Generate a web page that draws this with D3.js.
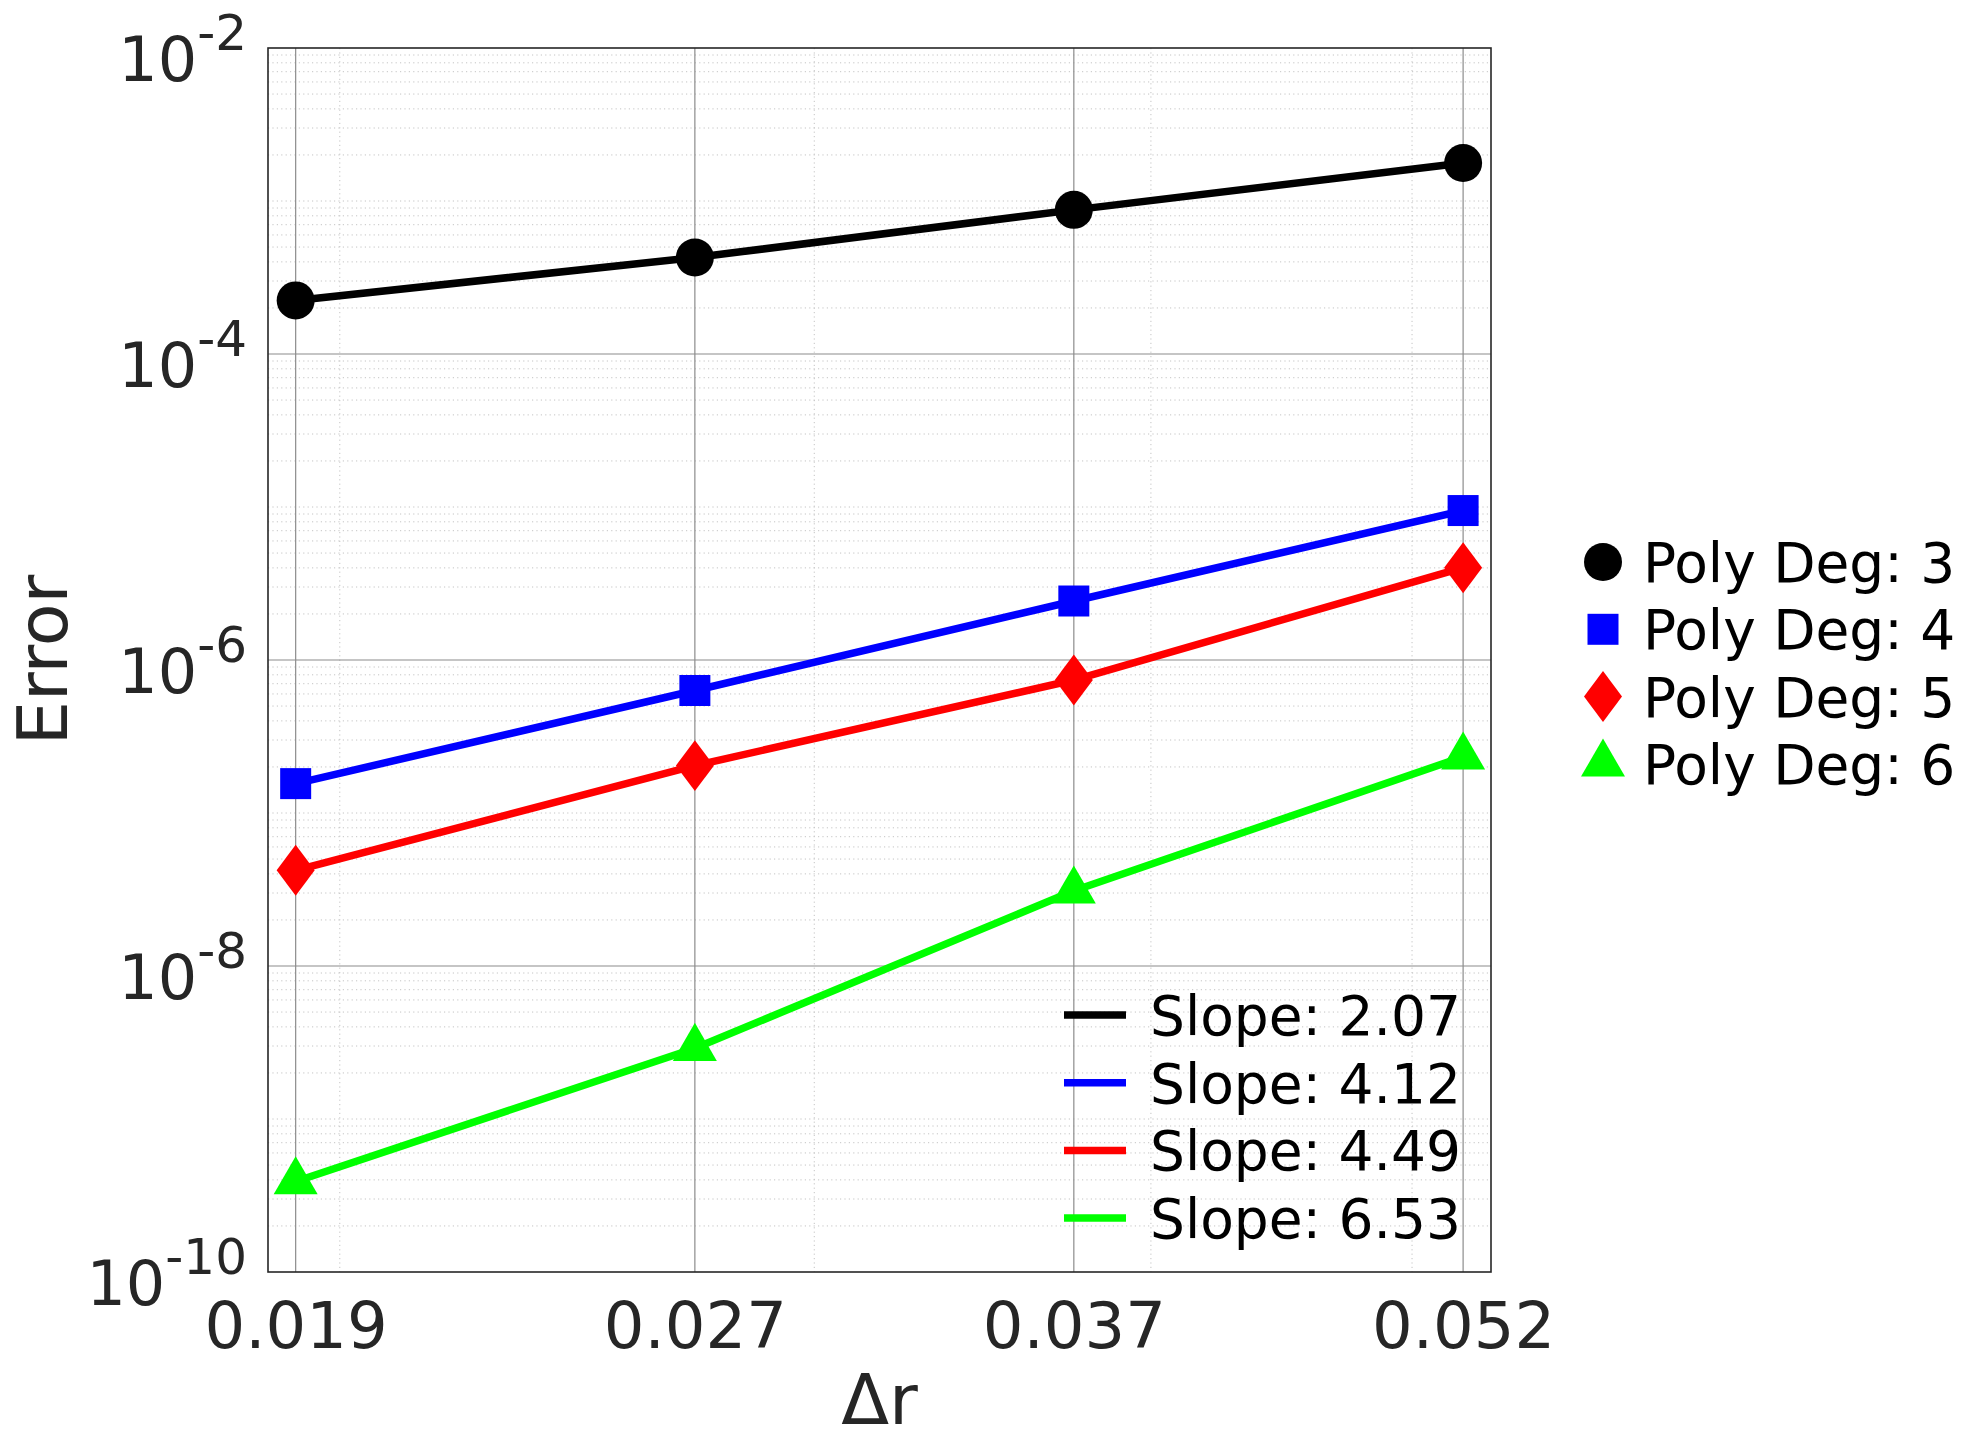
<!DOCTYPE html>
<html>
<head>
<meta charset="utf-8">
<script src="https://cdn.jsdelivr.net/npm/d3@7"></script>
<style>
  body { margin: 0; background: #fff; }
  text { font-family: "DejaVu Sans", sans-serif; }
</style>
</head>
<body>
<div id="chart"></div>
<script>
// grid spacing and tick labels
const dr = [0.01926, 0.02709, 0.03745, 0.05223];
const drLabels = ["0.019", "0.027", "0.037", "0.052"];
const yTickExps = [-2, -4, -6, -8, -10];

// error per polynomial degree
const errDeg3 = [2.24e-4, 4.27e-4, 8.75e-4, 1.77e-3];
const errDeg4 = [1.556e-7, 6.32e-7, 2.43e-6, 9.48e-6];
const errDeg5 = [4.22e-8, 2.04e-7, 7.40e-7, 4.01e-6];
const errDeg6 = [3.9e-10, 2.90e-9, 3.10e-8, 2.33e-7];

const degLabels = ["Poly Deg: 3", "Poly Deg: 4", "Poly Deg: 5", "Poly Deg: 6"];
const slopeLabels = ["Slope: 2.07", "Slope: 4.12", "Slope: 4.49", "Slope: 6.53"];

const W = 1966, H = 1443;
const margin = ({top: 48, right: 475, bottom: 171, left: 268});
const width = W - margin.left - margin.right, height = H - margin.top - margin.bottom;

const colors = ["#000000", "#0000ff", "#ff0000", "#00ff00"];

// diamond a bit wider than d3's own one
const diamond = {
  draw(ctx, size) {
    const h = Math.sqrt(size * 1.34), w = size / h;
    ctx.moveTo(0, -h / 2); ctx.lineTo(w / 2, 0); ctx.lineTo(0, h / 2); ctx.lineTo(-w / 2, 0); ctx.closePath();
  }
};
const shapes = [
  d3.symbol(d3.symbolCircle, 1134),
  d3.symbol(d3.symbolSquare, 961),
  d3.symbol(diamond, 1938),
  d3.symbol(d3.symbolTriangle, 838)
];

const svg = d3.select("#chart")
  .append("svg")
  .attr("width", W)
  .attr("height", H)
  .style("background", "#fff");

const g = svg.append("g")
  .attr("transform", `translate(${margin.left}, ${margin.top})`);

const xScale = d3.scaleLog().domain([0.01881, 0.05349]).range([0, width]);
const yScale = d3.scaleLog().domain([1e-10, 1e-2]).range([height, 0]);

// minor grid (dotted)
const yMinor = [];
for (let n = -10; n < -2; n++) {
  for (let k = 1; k <= 9; k++) {
    if (k === 1 && n % 2 === 0) continue;
    yMinor.push(k * Math.pow(10, n));
  }
}
const xMinor = [0.02, 0.03, 0.04, 0.05];

g.append("g").selectAll("line").data(yMinor).join("line")
  .attr("x1", 0).attr("x2", width)
  .attr("y1", d => yScale(d)).attr("y2", d => yScale(d))
  .attr("stroke", "#c4c4c4").attr("stroke-width", 1).attr("stroke-dasharray", "1.2,3.2");

g.append("g").selectAll("line").data(xMinor).join("line")
  .attr("x1", d => xScale(d)).attr("x2", d => xScale(d))
  .attr("y1", 0).attr("y2", height)
  .attr("stroke", "#c4c4c4").attr("stroke-width", 1).attr("stroke-dasharray", "1.2,3.2");

// major grid
g.append("g").selectAll("line").data(yTickExps.slice(1, -1)).join("line")
  .attr("x1", 0).attr("x2", width)
  .attr("y1", d => yScale(Math.pow(10, d))).attr("y2", d => yScale(Math.pow(10, d)))
  .attr("stroke", "#8c8c8c").attr("stroke-width", 1.2);

g.append("g").selectAll("line").data(dr).join("line")
  .attr("x1", d => xScale(d)).attr("x2", d => xScale(d))
  .attr("y1", 0).attr("y2", height)
  .attr("stroke", "#8c8c8c").attr("stroke-width", 1.2);

// box
g.append("rect")
  .attr("width", width).attr("height", height)
  .attr("fill", "none").attr("stroke", "#262626").attr("stroke-width", 1.6);

// x tick labels
const xAxis = d3.axisBottom(xScale).tickValues(dr).tickFormat((d, i) => drLabels[i]).tickSize(0).tickPadding(0);
g.append("g")
  .attr("class", "x-axis")
  .attr("transform", `translate(0, ${height})`)
  .call(xAxis)
  .call(a => a.select(".domain").remove())
  .selectAll("text")
  .attr("dy", null).attr("y", 76)
  .attr("font-size", 64).attr("fill", "#262626")
  .attr("font-family", "DejaVu Sans");

// y tick labels 10^n
const yLab = g.append("g").attr("class", "y-axis");
yTickExps.forEach(e => {
  const t = yLab.append("text")
    .attr("x", -21).attr("y", yScale(Math.pow(10, e)) + 33)
    .attr("text-anchor", "end")
    .attr("font-size", 62).attr("fill", "#262626");
  t.append("tspan").text("10");
  t.append("tspan").attr("dy", -31).attr("font-size", 50).text("-" + Math.abs(e));
});

// axis titles
g.append("text")
  .attr("x", width / 2).attr("y", height + 152)
  .attr("text-anchor", "middle").attr("font-size", 70).attr("fill", "#262626")
  .text("Δr");

g.append("text")
  .attr("transform", `translate(${67 - margin.left}, ${height / 2}) rotate(-90)`)
  .attr("text-anchor", "middle").attr("font-size", 70).attr("fill", "#262626")
  .text("Error");

// series
const series = [errDeg3, errDeg4, errDeg5, errDeg6];
const line = d3.line().x((d, i) => xScale(dr[i])).y(d => yScale(d));

series.forEach((s, j) => {
  g.append("path")
    .datum(s)
    .attr("fill", "none")
    .attr("stroke", colors[j])
    .attr("stroke-width", 7.5)
    .attr("d", line);
  g.append("g").selectAll("path").data(s).join("path")
    .attr("transform", (d, i) => `translate(${xScale(dr[i])}, ${yScale(d)})`)
    .attr("d", shapes[j])
    .attr("fill", colors[j]);
});

// legend: slopes (inside the axes)
const slopeLeg = g.append("g").attr("transform", `translate(${1064 - margin.left}, ${1015 - margin.top})`);
slopeLabels.forEach((lab, j) => {
  const row = slopeLeg.append("g").attr("transform", `translate(0, ${j * 67.7})`);
  row.append("line").attr("x1", 0).attr("x2", 62).attr("stroke", colors[j]).attr("stroke-width", 7.5);
  row.append("text").attr("x", 86).attr("y", 20).attr("font-size", 55).attr("fill", "#000").text(lab);
});

// legend: polynomial degree (outside right)
const degLeg = svg.append("g").attr("transform", `translate(1603, 562)`);
degLabels.forEach((lab, j) => {
  const row = degLeg.append("g").attr("transform", `translate(0, ${j * 67.3})`);
  row.append("path").attr("d", shapes[j]).attr("fill", colors[j]);
  row.append("text").attr("x", 40).attr("y", 20).attr("font-size", 55).attr("fill", "#000").text(lab);
});
</script>
</body>
</html>
